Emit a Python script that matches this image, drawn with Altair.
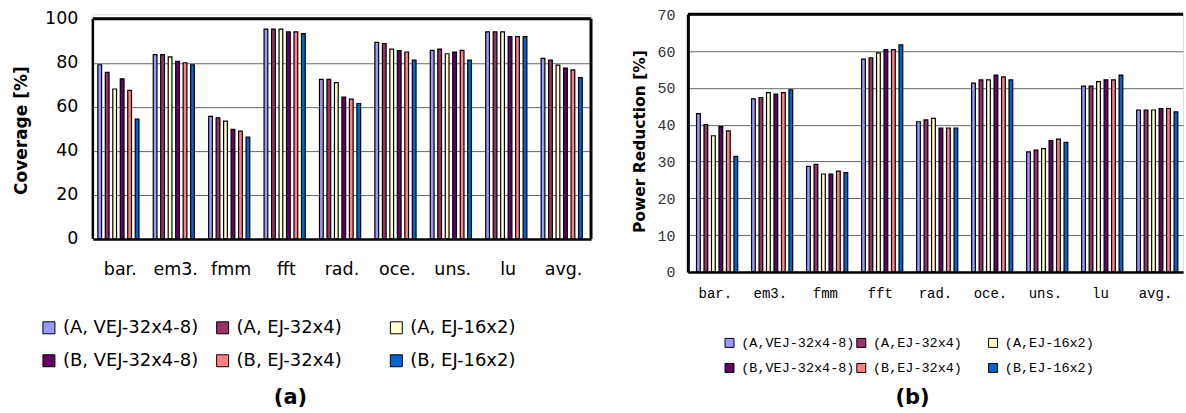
import altair as alt
import pandas as pd

categories = ["bar.", "em3.", "fmm", "fft", "rad.", "oce.", "uns.", "lu", "avg."]
series_a = ["(A, VEJ-32x4-8)", "(A, EJ-32x4)", "(A, EJ-16x2)",
            "(B, VEJ-32x4-8)", "(B, EJ-32x4)", "(B, EJ-16x2)"]
series_b = ["(A,VEJ-32x4-8)", "(A,EJ-32x4)", "(A,EJ-16x2)",
            "(B,VEJ-32x4-8)", "(B,EJ-32x4)", "(B,EJ-16x2)"]
colors = ["#9999FF", "#993366", "#FFFFCC", "#660066", "#FF8080", "#0066CC"]

# (a) Coverage [%]
cov_a_vej = [79.1, 83.7, 55.7, 95.3, 72.5, 89.3, 85.6, 94.0, 82.0]
cov_a_ej32 = [75.6, 83.7, 55.0, 95.3, 72.5, 88.7, 86.2, 94.0, 81.2]
cov_a_ej16 = [68.1, 82.7, 53.5, 95.3, 71.0, 86.2, 84.1, 94.0, 78.9]
cov_b_vej = [72.7, 80.6, 49.8, 94.0, 64.4, 85.5, 84.9, 91.9, 77.6]
cov_b_ej32 = [67.5, 80.0, 49.0, 94.0, 63.5, 84.9, 85.6, 91.9, 76.8]
cov_b_ej16 = [54.4, 79.1, 46.3, 93.2, 61.5, 81.2, 81.2, 91.9, 73.3]

# (b) Power Reduction [%]
pow_a_vej = [43.0, 47.0, 28.7, 57.8, 40.8, 51.3, 32.6, 50.5, 44.0]
pow_a_ej32 = [40.0, 47.4, 29.2, 58.2, 41.3, 52.2, 33.1, 50.5, 44.0]
pow_a_ej16 = [37.0, 48.7, 26.6, 59.5, 41.7, 52.2, 33.5, 51.7, 44.0]
pow_b_vej = [39.5, 48.3, 26.6, 60.4, 39.1, 53.5, 35.7, 52.2, 44.4]
pow_b_ej32 = [38.3, 48.7, 27.4, 60.4, 39.1, 53.0, 36.1, 52.2, 44.4]
pow_b_ej16 = [31.4, 49.5, 27.0, 61.7, 39.1, 52.2, 35.2, 53.5, 43.5]

ticks_a = [0, 20, 40, 60, 80, 100]
ticks_b = [0, 10, 20, 30, 40, 50, 60, 70]


def long_table(series, value_lists):
    rows = []
    for s, vals in zip(series, value_lists):
        for c, v in zip(categories, vals):
            rows.append({"cat": c, "series": s, "value": v})
    return pd.DataFrame(rows)


df_a = long_table(series_a, [cov_a_vej, cov_a_ej32, cov_a_ej16, cov_b_vej, cov_b_ej32, cov_b_ej16])
df_b = long_table(series_b, [pow_a_vej, pow_a_ej32, pow_a_ej16, pow_b_vej, pow_b_ej32, pow_b_ej16])
one = pd.DataFrame({"k": [0]})

W_A, H_A = 499, 225
W_B, H_B = 496, 258
TOP_A = H_A - H_A * 100 / 102  # pixel row of the 100 % line inside panel (a)
sans = "DejaVu Sans"
mono = "Liberation Mono"

# ---------------- panel (a) ----------------
anchor = alt.Chart(one).mark_rect(opacity=0).encode(
    x=alt.value(-92), x2=alt.value(1094), y=alt.value(-13), y2=alt.value(400))

bars_a = alt.Chart(df_a).mark_bar(stroke="black", strokeWidth=1.2,
                                  width=alt.RelativeBandSize(1)).encode(
    x=alt.X("cat:N", sort=categories,
            scale=alt.Scale(paddingInner=0.19, paddingOuter=0.09),
            axis=alt.Axis(title=None, labelAngle=0, ticks=False, domainColor="black",
                          domainWidth=2.5, labelPadding=22, labelFont=sans,
                          labelFontSize=17.5, labelColor="black", zindex=1, grid=False)),
    xOffset=alt.XOffset("series:N", sort=series_a,
                        scale=alt.Scale(paddingInner=0, paddingOuter=0)),
    y=alt.Y("value:Q", scale=alt.Scale(domain=[0, 102], nice=False),
            axis=alt.Axis(values=ticks_a, tickCount=6, title="Coverage [%]", ticks=False,
                          domain=False, grid=True, gridColor="#666666", gridWidth=1,
                          gridOpacity=1, labelOverlap=False,
                          labelPadding=15, labelFont=sans, labelFontSize=17.5,
                          labelColor="black", titleFont=sans, titleFontSize=17,
                          titleFontWeight="bold", titleColor="black", titleX=-71,
                          titleY=116, titleAngle=270, titleAlign="center",
                          titleBaseline="middle")),
    color=alt.Color("series:N", scale=alt.Scale(domain=series_a, range=colors),
                    legend=alt.Legend(title=None, orient="none", legendX=-53, legendY=305,
                                      direction="horizontal",
                                      columns=3, gridAlign="all", columnPadding=15,
                                      rowPadding=15, symbolType="square", symbolSize=144,
                                      symbolStrokeColor="black", symbolStrokeWidth=1,
                                      labelFont=sans, labelFontSize=18, labelColor="black",
                                      labelOffset=5, padding=0, labelLimit=400)),
)

top_a = alt.Chart(one).mark_rule(color="black", strokeWidth=3).encode(
    x=alt.value(0), x2=alt.value(W_A), y=alt.value(TOP_A))
left_a = alt.Chart(one).mark_rule(color="black", strokeWidth=2.5).encode(
    x=alt.value(0), y=alt.value(TOP_A), y2=alt.value(H_A))
right_a = alt.Chart(one).mark_rule(color="black", strokeWidth=3).encode(
    x=alt.value(W_A), y=alt.value(TOP_A), y2=alt.value(H_A))
cap_a = alt.Chart(pd.DataFrame({"t": ["(a)"]})).mark_text(
    font=sans, fontSize=21, fontWeight="bold", color="black",
    align="center", baseline="middle").encode(
    text="t:N", x=alt.value(198), y=alt.value(384))

chart_a = alt.layer(anchor, bars_a, top_a, left_a, right_a, cap_a).properties(
    width=W_A, height=H_A)

# ---------------- panel (b) ----------------
bars_b = alt.Chart(df_b).mark_bar(stroke="black", strokeWidth=1.2,
                                  width=alt.RelativeBandSize(1)).encode(
    x=alt.X("cat:N", sort=categories,
            scale=alt.Scale(paddingInner=0.18, paddingOuter=0.09),
            axis=alt.Axis(title=None, labelAngle=0, ticks=False, domainColor="black",
                          domainWidth=2.5, labelPadding=15, labelFont=mono,
                          labelFontSize=14, labelColor="black", zindex=1, grid=False)),
    xOffset=alt.XOffset("series:N", sort=series_b,
                        scale=alt.Scale(paddingInner=0, paddingOuter=0)),
    y=alt.Y("value:Q", scale=alt.Scale(domain=[0, 70], nice=False),
            axis=alt.Axis(values=ticks_b, tickCount=8, title="Power Reduction [%]",
                          ticks=False, domain=True, domainColor="black", domainWidth=3,
                          grid=True, gridColor="#666666", gridWidth=1, gridOpacity=1,
                          labelOverlap=False,
                          labelPadding=13, labelFont=mono, labelFontSize=15,
                          labelColor="#333333", titleFont=sans, titleFontSize=15.5,
                          titleFontWeight="bold", titleColor="black", titleX=-48,
                          titleY=127, titleAngle=270, titleAlign="center",
                          titleBaseline="middle")),
    color=alt.Color("series:N", scale=alt.Scale(domain=series_b, range=colors),
                    legend=alt.Legend(title=None, orient="none", legendX=35, legendY=322,
                                      direction="horizontal",
                                      columns=3, gridAlign="all", columnPadding=0,
                                      rowPadding=10.5, symbolType="square", symbolSize=81,
                                      symbolStrokeColor="black", symbolStrokeWidth=1,
                                      labelFont=mono, labelFontSize=13.5, labelColor="black",
                                      labelOffset=5, padding=0, labelLimit=400)),
)

top_b = alt.Chart(one).mark_rule(color="black", strokeWidth=3).encode(
    x=alt.value(0), x2=alt.value(W_B), y=alt.value(0))
cap_b = alt.Chart(pd.DataFrame({"t": ["(b)"]})).mark_text(
    font=sans, fontSize=21, fontWeight="bold", color="black",
    align="center", baseline="middle").encode(
    text="t:N", x=alt.value(225), y=alt.value(384))

chart_b = alt.layer(bars_b, top_b, cap_b).properties(width=W_B, height=H_B)

chart = alt.hconcat(chart_a, chart_b, spacing=97, bounds="flush", padding=0).resolve_scale(
    color="independent").resolve_legend(color="independent").configure_view(
    stroke=None).configure(background="white")

chart.save("out.html", embed_options={"renderer": "svg", "actions": False})
